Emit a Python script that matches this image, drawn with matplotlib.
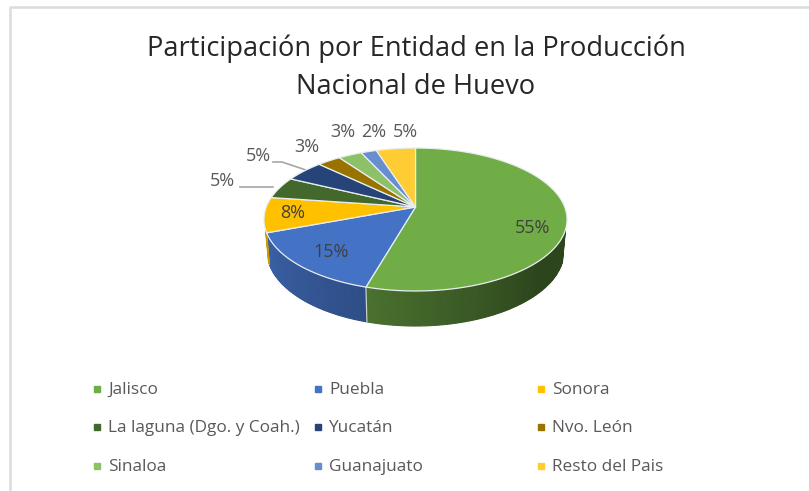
import numpy as np
import matplotlib
matplotlib.use('Agg')
import matplotlib.pyplot as plt
from matplotlib.colors import to_rgb

plt.rcParams['font.family'] = ['Open Sans', 'DejaVu Sans']

categories = ['Jalisco', 'Puebla', 'Sonora', 'La laguna (Dgo. y Coah.)', 'Yucatán',
              'Nvo. León', 'Sinaloa', 'Guanajuato', 'Resto del Pais']
values = [55, 15, 8, 5, 5, 3, 3, 2, 5]
labels = ['55%', '15%', '8%', '5%', '5%', '3%', '3%', '2%', '5%']
colors = ['#70AD47', '#4472C4', '#FFC000', '#43682B', '#264478',
          '#997300', '#8CC168', '#698ED0', '#FFCD33']

# pie geometry in pixels, perspective tilt
cx, cy = 415.5, 207
a, b, k = 149.2, 69.3, 0.175
depth_back, depth_front = 26, 35
wall_from, wall_to = np.radians(108), np.radians(252)
low_scale = 0.98


def project(theta):
    # theta is clockwise from 12 o'clock
    u = np.sin(theta)
    v = np.cos(theta)
    w = 1 + k * v
    return cx + a * u / w, cy - b * v / w


def depth(theta):
    return depth_back + (depth_front - depth_back) * (1 - np.cos(theta)) / 2


def shade(c, f):
    return tuple(np.array(to_rgb(c)) * f)


def wall_factor(i, m):
    # green goes dark to the right, blue lighter to the left
    if i == 1:
        return 0.68 + 0.18 * np.clip((m - np.radians(196)) / 1.0, 0, 1)
    if i == 0:
        return 0.40 + 0.25 * np.clip((m - np.radians(135)) / np.radians(60), 0, 1)
    return 0.8


fig = plt.figure(figsize=(8.09, 4.91), dpi=100)
ax = fig.add_axes([0, 0, 1, 1])
ax.set_xlim(0, 809)
ax.set_ylim(491, 0)
ax.axis('off')

# chart border
ax.plot([809, 10.5, 10.5], [7, 7, 491], color='#DCDCDC', lw=1.8)

fracs = np.array(values) / sum(values)
edges = np.concatenate(([0], np.cumsum(fracs))) * 2 * np.pi

# side wall, front part only, shaded in thin strips
for i in range(len(values)):
    t0, t1 = max(edges[i], wall_from), min(edges[i + 1], wall_to)
    if t1 <= t0:
        continue
    steps = np.linspace(t0, t1, int((t1 - t0) * 60) + 2)
    for s0, s1 in zip(steps[:-1], steps[1:]):
        x0, y0 = project(s0)
        x1, y1 = project(s1)
        x0b = cx + (x0 - cx) * low_scale
        x1b = cx + (x1 - cx) * low_scale
        c = shade(colors[i], wall_factor(i, (s0 + s1) / 2))
        ax.fill([x0, x1, x1b, x0b], [y0, y1, y1 + depth(s1), y0 + depth(s0)],
                facecolor=c, edgecolor=c, lw=0.8, zorder=2)

# seam between Jalisco and Puebla on the wall
x0, y0 = project(edges[1])
ax.plot([x0, cx + (x0 - cx) * low_scale], [y0, y0 + depth(edges[1])],
        color='#C9D3C4', lw=0.9, zorder=3)

# top face
for i in range(len(values)):
    th = np.linspace(edges[i], edges[i + 1], 120)
    xs, ys = project(th)
    ax.fill(np.r_[cx, xs], np.r_[cy, ys], facecolor=colors[i],
            edgecolor='#E8EEF0', lw=0.9, zorder=4, joinstyle='round')

# data labels
label_pos = [(533, 228), (331, 252), (293, 213), (222, 181), (258, 156),
             (307, 147), (343, 132), (374, 132), (405, 132)]
inside = [True, True, True, False, False, False, False, False, False]
for lab, (lx, ly), ins in zip(labels, label_pos, inside):
    ax.text(lx, ly, lab, ha='center', va='center', fontsize=13,
            color='#404040' if ins else '#595959', zorder=6)

# leader lines
ax.plot([240, 273], [187, 187], color='#A6A6A6', lw=1.2, zorder=3)
ax.plot([273, 282, 306], [162, 162, 170], color='#A6A6A6', lw=1.2, zorder=3)

ax.text(416, 49, 'Participación por Entidad en la Producción', ha='center', va='center',
        fontsize=19.6, color='#262626')
ax.text(416, 87, 'Nacional de Huevo', ha='center', va='center',
        fontsize=19.6, color='#262626')

# legend
col_x = [97, 318, 541]
row_y = [389, 427, 466]
for i, c in enumerate(categories):
    mx = col_x[i % 3]
    my = row_y[i // 3]
    ax.plot([mx], [my], marker='s', ms=4.6, color=colors[i], ls='none')
    ax.text(mx + 11, my + 1, c, ha='left', va='center', fontsize=12.4, color='#595959')

fig.savefig('out.png', dpi=100)
